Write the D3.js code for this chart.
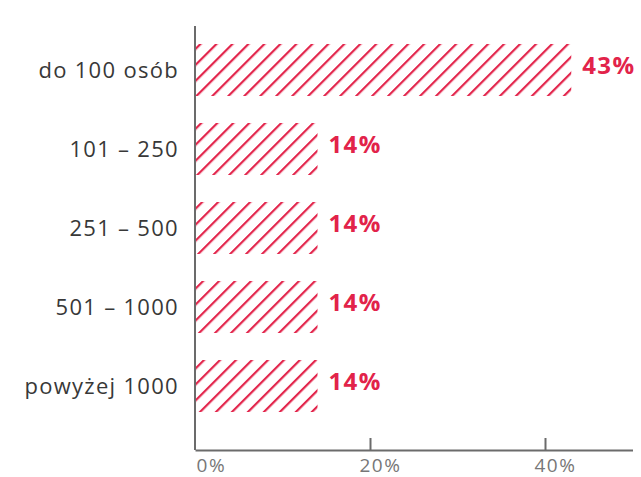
<!DOCTYPE html>
<html>
<head>
<meta charset="utf-8">
<script src="https://cdn.jsdelivr.net/npm/d3@7"></script>
<style>
  html, body { margin: 0; padding: 0; background: #fff; }
  svg { display: block; }
  text { font-family: "Open Sans", Lato, sans-serif; }
</style>
</head>
<body>
<svg id="chart" width="641" height="477"></svg>
<script>
// Company size groups and their share of respondents (%)
const categories = ["do 100 osób", "101 – 250", "251 – 500", "501 – 1000", "powyżej 1000"];
const shares = [43, 14, 14, 14, 14];
const tickValues = [0, 20, 40];
const tickLabels = ["0%", "20%", "40%"];

const red = "#e2234a";
const axisGrey = "#6b6b6b";

const svg = d3.select("#chart");

const x = d3.scaleLinear().domain([0, 50]).range([195, 632.5]);
const y = d3.scaleBand()
  .domain(categories)
  .range([12, 444])
  .paddingInner(0.342)
  .paddingOuter(0.405);

// Diagonal hatch fill for the bars
const defs = svg.append("defs");
const pat = defs.append("pattern")
  .attr("id", "hatch")
  .attr("patternUnits", "userSpaceOnUse")
  .attr("width", 11.3)
  .attr("height", 11.3)
  .attr("patternTransform", "translate(195,0) rotate(45)");
pat.append("rect")
  .attr("x", 0).attr("y", 0)
  .attr("width", 2.2).attr("height", 11.3)
  .attr("fill", red);

const rows = categories.map((c, i) => ({ cat: c, value: shares[i] }));

// Bars
svg.append("g").selectAll("rect")
  .data(rows)
  .join("rect")
  .attr("x", x(0))
  .attr("y", d => y(d.cat))
  .attr("width", d => x(d.value) - x(0))
  .attr("height", y.bandwidth())
  .attr("fill", "url(#hatch)");

// Value labels
svg.append("g").selectAll("text")
  .data(rows)
  .join("text")
  .attr("x", d => x(d.value) + 11)
  .attr("y", d => y(d.cat) + y.bandwidth() / 2 + 4)
  .attr("fill", red)
  .attr("font-size", 24)
  .attr("font-weight", 700)
  .attr("letter-spacing", 1.4)
  .text(d => d.value + "%");

// Category labels
svg.append("g").selectAll("text")
  .data(rows)
  .join("text")
  .attr("x", 179)
  .attr("y", d => y(d.cat) + y.bandwidth() / 2 + 8)
  .attr("text-anchor", "end")
  .attr("fill", "#383838")
  .attr("font-size", 22)
  .attr("font-weight", 400)
  .attr("letter-spacing", 1.3)
  .text(d => d.cat);

// Vertical axis line
svg.append("line")
  .attr("x1", x(0)).attr("x2", x(0))
  .attr("y1", 26).attr("y2", 450)
  .attr("stroke", axisGrey)
  .attr("stroke-width", 2);

// Horizontal value axis
const xAxis = d3.axisBottom(x)
  .tickValues(tickValues)
  .tickSizeInner(-12)
  .tickSizeOuter(0)
  .tickFormat((d, i) => tickLabels[i]);

const gx = svg.append("g")
  .attr("transform", "translate(0,450)")
  .call(xAxis);
gx.select(".domain").attr("stroke", axisGrey).attr("stroke-width", 2);
gx.selectAll(".tick line")
  .attr("stroke", axisGrey)
  .attr("stroke-width", 2)
  .attr("display", d => d === 0 ? "none" : null);
gx.selectAll(".tick text")
  .attr("fill", "#777777")
  .attr("font-size", 19)
  .attr("font-weight", 400)
  .attr("letter-spacing", 1.6)
  .attr("font-family", "'Open Sans', sans-serif")
  .attr("y", 21.5)
  .attr("dy", 0)
  .attr("text-anchor", d => d === 0 ? "start" : "middle")
  .attr("dx", d => d === 0 ? 1 : 10);
</script>
</body>
</html>
